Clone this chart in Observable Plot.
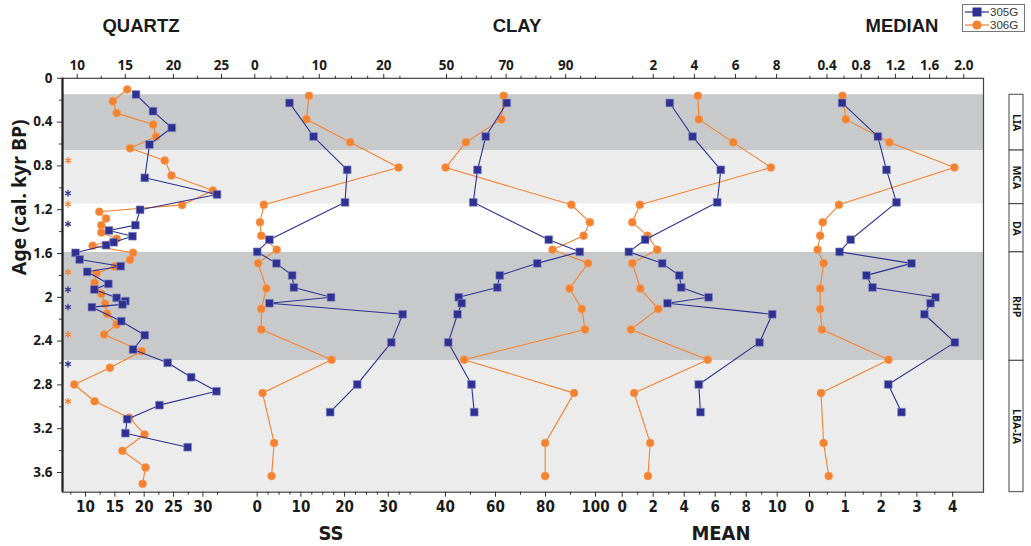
<!DOCTYPE html>
<html>
<head>
<meta charset="utf-8">
<script src="https://cdn.jsdelivr.net/npm/d3@7"></script>
<script src="https://cdn.jsdelivr.net/npm/@observablehq/plot@0.6"></script>
<style>
  body { margin: 0; background: #fff; font-family: "Liberation Sans", Arial, sans-serif; }
  #chart { position: relative; width: 1031px; height: 546px; overflow: hidden; }
  #chart svg.layer { position: absolute; left: 0; top: 0; }
  .title { position: absolute; font-weight: bold; font-size: 18.5px; color: #1a1a1a; transform: translate(-50%, -50%); white-space: nowrap; }
  .title.narrow { font-family: "Liberation Sans Narrow", "DejaVu Sans Condensed", Arial, sans-serif; font-size: 20px; }
  #legend { position: absolute; left: 962px; top: 4px; width: 63px; height: 28px; border: 1px solid #777; background: #fff; box-sizing: border-box; font-size: 11.5px; color: #333; }
  #legend .row { position: absolute; left: 2px; height: 12px; display: flex; align-items: center; }
  #legend .row span { margin-left: 1px; line-height: 12px; }
</style>
</head>
<body>
<div id="chart"></div>
<script>
// ---- Core GA05: sediment proxies vs age (cal. kyr BP) ----

// Quartz (%) — finer sampling than the other proxies
const quartzAge305 = [0.148, 0.300, 0.452, 0.605, 0.909, 1.061, 1.201, 1.341, 1.390, 1.442, 1.497, 1.524, 1.594, 1.655, 1.716, 1.767, 1.877, 1.929, 2.005, 2.035, 2.065, 2.090, 2.218, 2.346, 2.477, 2.598, 2.730, 2.858, 2.985, 3.113, 3.241, 3.369];
const quartz305    = [18.6, 21.5, 24.7, 20.9, 20.1, 32.4, 19.3, 18.5, 14.0, 18.0, 14.8, 13.5, 8.3, 9.0, 16.0, 10.3, 13.9, 11.5, 15.3, 16.8, 16.3, 11.1, 16.1, 20.1, 18.1, 24.0, 28.0, 32.3, 22.6, 17.1, 16.8, 27.4];
const quartzAge306 = [0.102, 0.209, 0.318, 0.422, 0.532, 0.638, 0.751, 0.888, 1.025, 1.156, 1.219, 1.280, 1.341, 1.408, 1.466, 1.530, 1.594, 1.658, 1.719, 1.780, 1.868, 1.968, 2.059, 2.151, 2.248, 2.340, 2.492, 2.644, 2.796, 2.949, 3.100, 3.253, 3.402, 3.554, 3.703];
const quartz306    = [15.2, 13.7, 14.1, 17.9, 18.2, 15.5, 19.1, 19.8, 24.1, 20.9, 12.3, 13.0, 12.5, 12.5, 14.1, 11.6, 15.8, 15.5, 13.9, 12.0, 11.8, 12.5, 12.9, 13.1, 14.1, 12.8, 16.7, 13.4, 9.7, 11.8, 15.4, 17.0, 14.7, 17.1, 16.8];

// Shared sample ages for SS, clay, mean and median
const age305 = [0.225, 0.532, 0.836, 1.133, 1.474, 1.585, 1.690, 1.800, 1.910, 2.000, 2.054, 2.155, 2.412, 2.796, 3.049];
const age306 = [0.160, 0.375, 0.585, 0.815, 1.155, 1.315, 1.437, 1.565, 1.688, 1.920, 2.106, 2.294, 2.570, 2.875, 3.330, 3.632];

const ss305     = [7.4, 12.9, 20.6, 20.1, 2.8, 0.0, 4.4, 8.0, 8.4, 16.9, 2.8, 33.3, 30.7, 22.9, 16.7];
const ss306     = [8.4, 8.0, 14.8, 22.3, 1.4, 0.8, 1.0, 3.4, 0.5, 1.8, 1.0, 1.0, 11.9, 1.2, 3.0, 2.6];
const clay305   = [64.5, 56.1, 52.8, 51.1, 81.3, 93.7, 76.7, 61.7, 60.7, 45.3, 46.5, 44.8, 41.1, 50.4, 51.5];
const clay306   = [69.2, 68.4, 56.5, 49.7, 91.9, 98.1, 96.0, 85.6, 97.5, 91.3, 95.4, 96.5, 55.9, 92.8, 83.1, 83.1];
const mean305   = [3.07, 4.54, 6.36, 6.13, 1.48, 0.43, 2.58, 3.68, 3.81, 5.57, 2.92, 9.68, 8.86, 4.94, 5.05];
const mean306   = [4.17, 4.22, 5.89, 7.72, 1.35, 0.98, 1.72, 2.19, 0.98, 1.37, 2.24, 0.91, 4.65, 1.07, 1.85, 1.74];
const median305 = [0.91, 1.91, 2.15, 2.43, 1.15, 0.84, 2.85, 1.59, 1.76, 3.52, 3.38, 3.21, 4.06, 2.20, 2.57];
const median306 = [0.58, 0.62, 1.13, 1.89, 0.54, 0.35, 0.32, 0.29, 0.36, 0.32, 0.32, 0.34, 1.12, 0.33, 0.36, 0.42];

// Marked horizons (asterisks along the age axis)
const starAge305 = [1.05, 1.33, 1.93, 2.09, 2.61];
const starAge306 = [0.75, 1.15, 1.77, 2.34, 2.95];

// Climatic periods
const periodNames  = ["LIA", "MCA", "DA", "RHP", "LBA-IA"];
const periodBounds = [0.15, 0.66, 1.15, 1.59, 2.58, 3.78];

// Axis ticks
const ageTicks      = [0, 0.4, 0.8, 1.2, 1.6, 2, 2.4, 2.8, 3.2, 3.6];
const ageMinorTicks = [0.2, 0.6, 1.0, 1.4, 1.8, 2.2, 2.6, 3.0, 3.4];

const quartzTopTicks = [10, 15, 20, 25],            quartzTopMinor = [12.5, 17.5, 22.5];
const quartzBotTicks = [10, 15, 20, 25, 30],        quartzBotMinor = [7.5, 12.5, 17.5, 22.5, 27.5, 32.5];
const ssTopTicks     = [0, 10, 20],                 ssTopMinor     = [2.5, 5, 7.5, 12.5, 15, 17.5, 22.5];
const ssBotTicks     = [0, 10, 20, 30],             ssBotMinor     = [2.5, 5, 7.5, 12.5, 15, 17.5, 22.5, 25, 27.5, 32.5, 35];
const clayTopTicks   = [50, 70, 90],                clayTopMinor   = [55, 60, 65, 75, 80, 85, 95, 100];
const clayBotTicks   = [40, 60, 80, 100],           clayBotMinor   = [50, 70, 90];
const meanTopTicks   = [2, 4, 6, 8],                meanTopMinor   = [1, 3, 5, 7];
const meanBotTicks   = [0, 2, 4, 6, 8, 10],         meanBotMinor   = [1, 3, 5, 7, 9];
const medianTopTicks = [0.4, 0.8, 1.2, 1.6, 2.0],   medianTopMinor = [0.2, 0.6, 1.0, 1.4, 1.8];
const medianBotTicks = [0, 1, 2, 3, 4],             medianBotMinor = [0.5, 1.5, 2.5, 3.5];

// ---- styling & layout ----
const BLUE = "#2E3192", ORANGE = "#F4822F";
const W = 1031, H = 546;
const M = {top: 77.8, bottom: 54.3, left: 62, right: 48};
const ageDomain = [0, periodBounds[periodBounds.length - 1]];
const bandFill = ["#c8c9cb", "#ececec", "#ffffff", "#c8c9cb", "#ececec"];
const TXT = "#1a1a1a", TICK = "#333";
const narrowFont = "'Liberation Sans Narrow', 'DejaVu Sans Condensed', Arial, sans-serif";

const zip = (ages, values) => ages.map((age, i) => ({age, v: values[i]}));
const periods = periodNames.map((name, i) => ({name, start: periodBounds[i], end: periodBounds[i + 1], shade: bandFill[i]}));

// Each proxy column: 305G on the bottom axis, 306G on the top axis.
const columns = [
  {s305: zip(quartzAge305, quartz305), s306: zip(quartzAge306, quartz306),
   top: {domain: [10, 25],   range: [76.7, 221],   ticks: quartzTopTicks, minor: quartzTopMinor},
   bot: {domain: [7.5, 32.5], range: [70.3, 217.1], ticks: quartzBotTicks, minor: quartzBotMinor}},
  {s305: zip(age305, ss305), s306: zip(age306, ss306),
   top: {domain: [0, 22.5], range: [254.3, 399.4], ticks: ssTopTicks, minor: ssTopMinor},
   bot: {domain: [0, 35],   range: [256.7, 409.6], ticks: ssBotTicks, minor: ssBotMinor}},
  {s305: zip(age305, clay305), s306: zip(age306, clay306),
   top: {domain: [50, 100], range: [446, 595],   ticks: clayTopTicks, minor: clayTopMinor},
   bot: {domain: [40, 100], range: [445, 595],   ticks: clayBotTicks, minor: clayBotMinor}},
  {s305: zip(age305, mean305), s306: zip(age306, mean306),
   top: {domain: [1, 8],  range: [632.2, 776.1], ticks: meanTopTicks, minor: meanTopMinor},
   bot: {domain: [0, 10], range: [621.7, 776.7], ticks: meanBotTicks, minor: meanBotMinor}},
  {s305: zip(age305, median305), s306: zip(age306, median306),
   top: {domain: [0.2, 2.0], range: [809.4, 963.3], ticks: medianTopTicks, minor: medianTopMinor, fmt: d => d.toFixed(1)},
   bot: {domain: [0, 4],     range: [809, 952.2],   ticks: medianBotTicks, minor: medianBotMinor}}
];

const chart = document.getElementById("chart");
function add(svg) { svg.classList.add("layer"); chart.appendChild(svg); }

const yScale = {domain: ageDomain, reverse: true, axis: null, label: null};
const base = {width: W, height: H, marginTop: M.top, marginBottom: M.bottom, marginLeft: M.left, marginRight: M.right,
              style: {background: "transparent", overflow: "visible"}};

// Background: bands, frame, age axis, asterisks
add(Plot.plot({
  ...base,
  x: {domain: [0, 1], axis: null, label: null},
  y: {...yScale},
  color: {type: "identity"},
  marks: [
    Plot.rect(periods, {y1: "start", y2: "end", fill: "shade"}),
    Plot.frame({stroke: "#444", strokeWidth: 1.2}),
    Plot.ruleX([0], {stroke: "#222", strokeWidth: 2.2}),
    Plot.axisY({anchor: "left", ticks: ageMinorTicks, tickSize: 3, tickFormat: () => "", stroke: TICK, label: null}),
    Plot.axisY({anchor: "left", ticks: ageTicks, tickSize: 5, tickPadding: 5, stroke: TICK, label: null,
                tickFormat: d => String(+d.toFixed(1)), fontSize: 13.5, fontWeight: "bold", fill: TXT}),
    Plot.text(["Age (cal. kyr BP)"], {frameAnchor: "left", rotate: -90, dx: -43, dy: -10,
                fontSize: 19.5, fontWeight: "bold", fill: TXT}),
    Plot.dot(starAge305, {y: d => d, frameAnchor: "left", dx: 5.5, symbol: "asterisk", r: 3.2, stroke: BLUE, strokeWidth: 1.2}),
    Plot.dot(starAge306, {y: d => d, frameAnchor: "left", dx: 5.5, symbol: "asterisk", r: 3.2, stroke: ORANGE, strokeWidth: 1.2})
  ]
}));

// 306G series (top axes), drawn first
for (const c of columns) {
  add(Plot.plot({
    ...base,
    x: {domain: c.top.domain, range: c.top.range, axis: null, label: null},
    y: {...yScale},
    marks: [
      Plot.axisX({anchor: "top", ticks: c.top.minor, tickSize: 3, tickFormat: () => "", stroke: TICK, label: null}),
      Plot.axisX({anchor: "top", ticks: c.top.ticks, tickSize: 5, tickPadding: 3, stroke: TICK, label: null,
                  tickFormat: c.top.fmt || (d => String(d)), fontSize: 13.5, fontWeight: "bold", fill: TXT}),
      Plot.line(c.s306, {x: "v", y: "age", stroke: ORANGE, strokeWidth: 1.1}),
      Plot.dot(c.s306, {x: "v", y: "age", r: 4, fill: ORANGE, stroke: "#f7a56b", strokeWidth: 0.5})
    ]
  }));
}

// 305G series (bottom axes), drawn on top
for (const c of columns) {
  add(Plot.plot({
    ...base,
    x: {domain: c.bot.domain, range: c.bot.range, axis: null, label: null},
    y: {...yScale},
    marks: [
      Plot.axisX({anchor: "bottom", ticks: c.bot.minor, tickSize: 3, tickFormat: () => "", stroke: TICK, label: null}),
      Plot.axisX({anchor: "bottom", ticks: c.bot.ticks, tickSize: 5, tickPadding: 4, stroke: TICK, label: null,
                  tickFormat: d => String(d), fontSize: 15, fontWeight: "bold", fill: TXT, fontFamily: narrowFont}),
      Plot.line(c.s305, {x: "v", y: "age", stroke: BLUE, strokeWidth: 1.1}),
      Plot.dot(c.s305, {x: "v", y: "age", symbol: "square", r: 4.4, fill: BLUE, stroke: "#8a8fc4", strokeWidth: 0.6})
    ]
  }));
}

// Period labels at the right
add(Plot.plot({
  ...base,
  marginLeft: 1009, marginRight: 8,
  x: {domain: [0, 1], axis: null, label: null},
  y: {...yScale},
  marks: [
    Plot.rect(periods, {y1: "start", y2: "end", fill: "white", stroke: "#333", strokeWidth: 0.9}),
    Plot.text(periods, {y: d => (d.start + d.end) / 2, text: "name", rotate: 90,
                        fontSize: 10.5, fontWeight: "bold", fill: TXT})
  ]
}));

// Column titles
const titles = [
  {text: "QUARTZ", x: 141, y: 26, cls: ""},
  {text: "CLAY",   x: 517, y: 26, cls: ""},
  {text: "MEDIAN", x: 902, y: 26, cls: ""},
  {text: "SS",     x: 331, y: 533, cls: "narrow"},
  {text: "MEAN",   x: 721, y: 533, cls: "narrow"}
];
for (const t of titles) {
  const d = document.createElement("div");
  d.className = "title " + t.cls;
  d.textContent = t.text;
  d.style.left = t.x + "px";
  d.style.top = t.y + "px";
  chart.appendChild(d);
}

// Legend
const legend = document.createElement("div");
legend.id = "legend";
legend.innerHTML = `
  <div class="row" style="top:1px"><svg width="24" height="12"><line x1="0" y1="6" x2="24" y2="6" stroke="${BLUE}" stroke-width="1.2"/><rect x="7.5" y="1.5" width="9" height="9" fill="${BLUE}"/></svg><span>305G</span></div>
  <div class="row" style="top:14px"><svg width="24" height="12"><line x1="0" y1="6" x2="24" y2="6" stroke="${ORANGE}" stroke-width="1.2"/><circle cx="12" cy="6" r="4.6" fill="${ORANGE}"/></svg><span>306G</span></div>`;
chart.appendChild(legend);
</script>
</body>
</html>
